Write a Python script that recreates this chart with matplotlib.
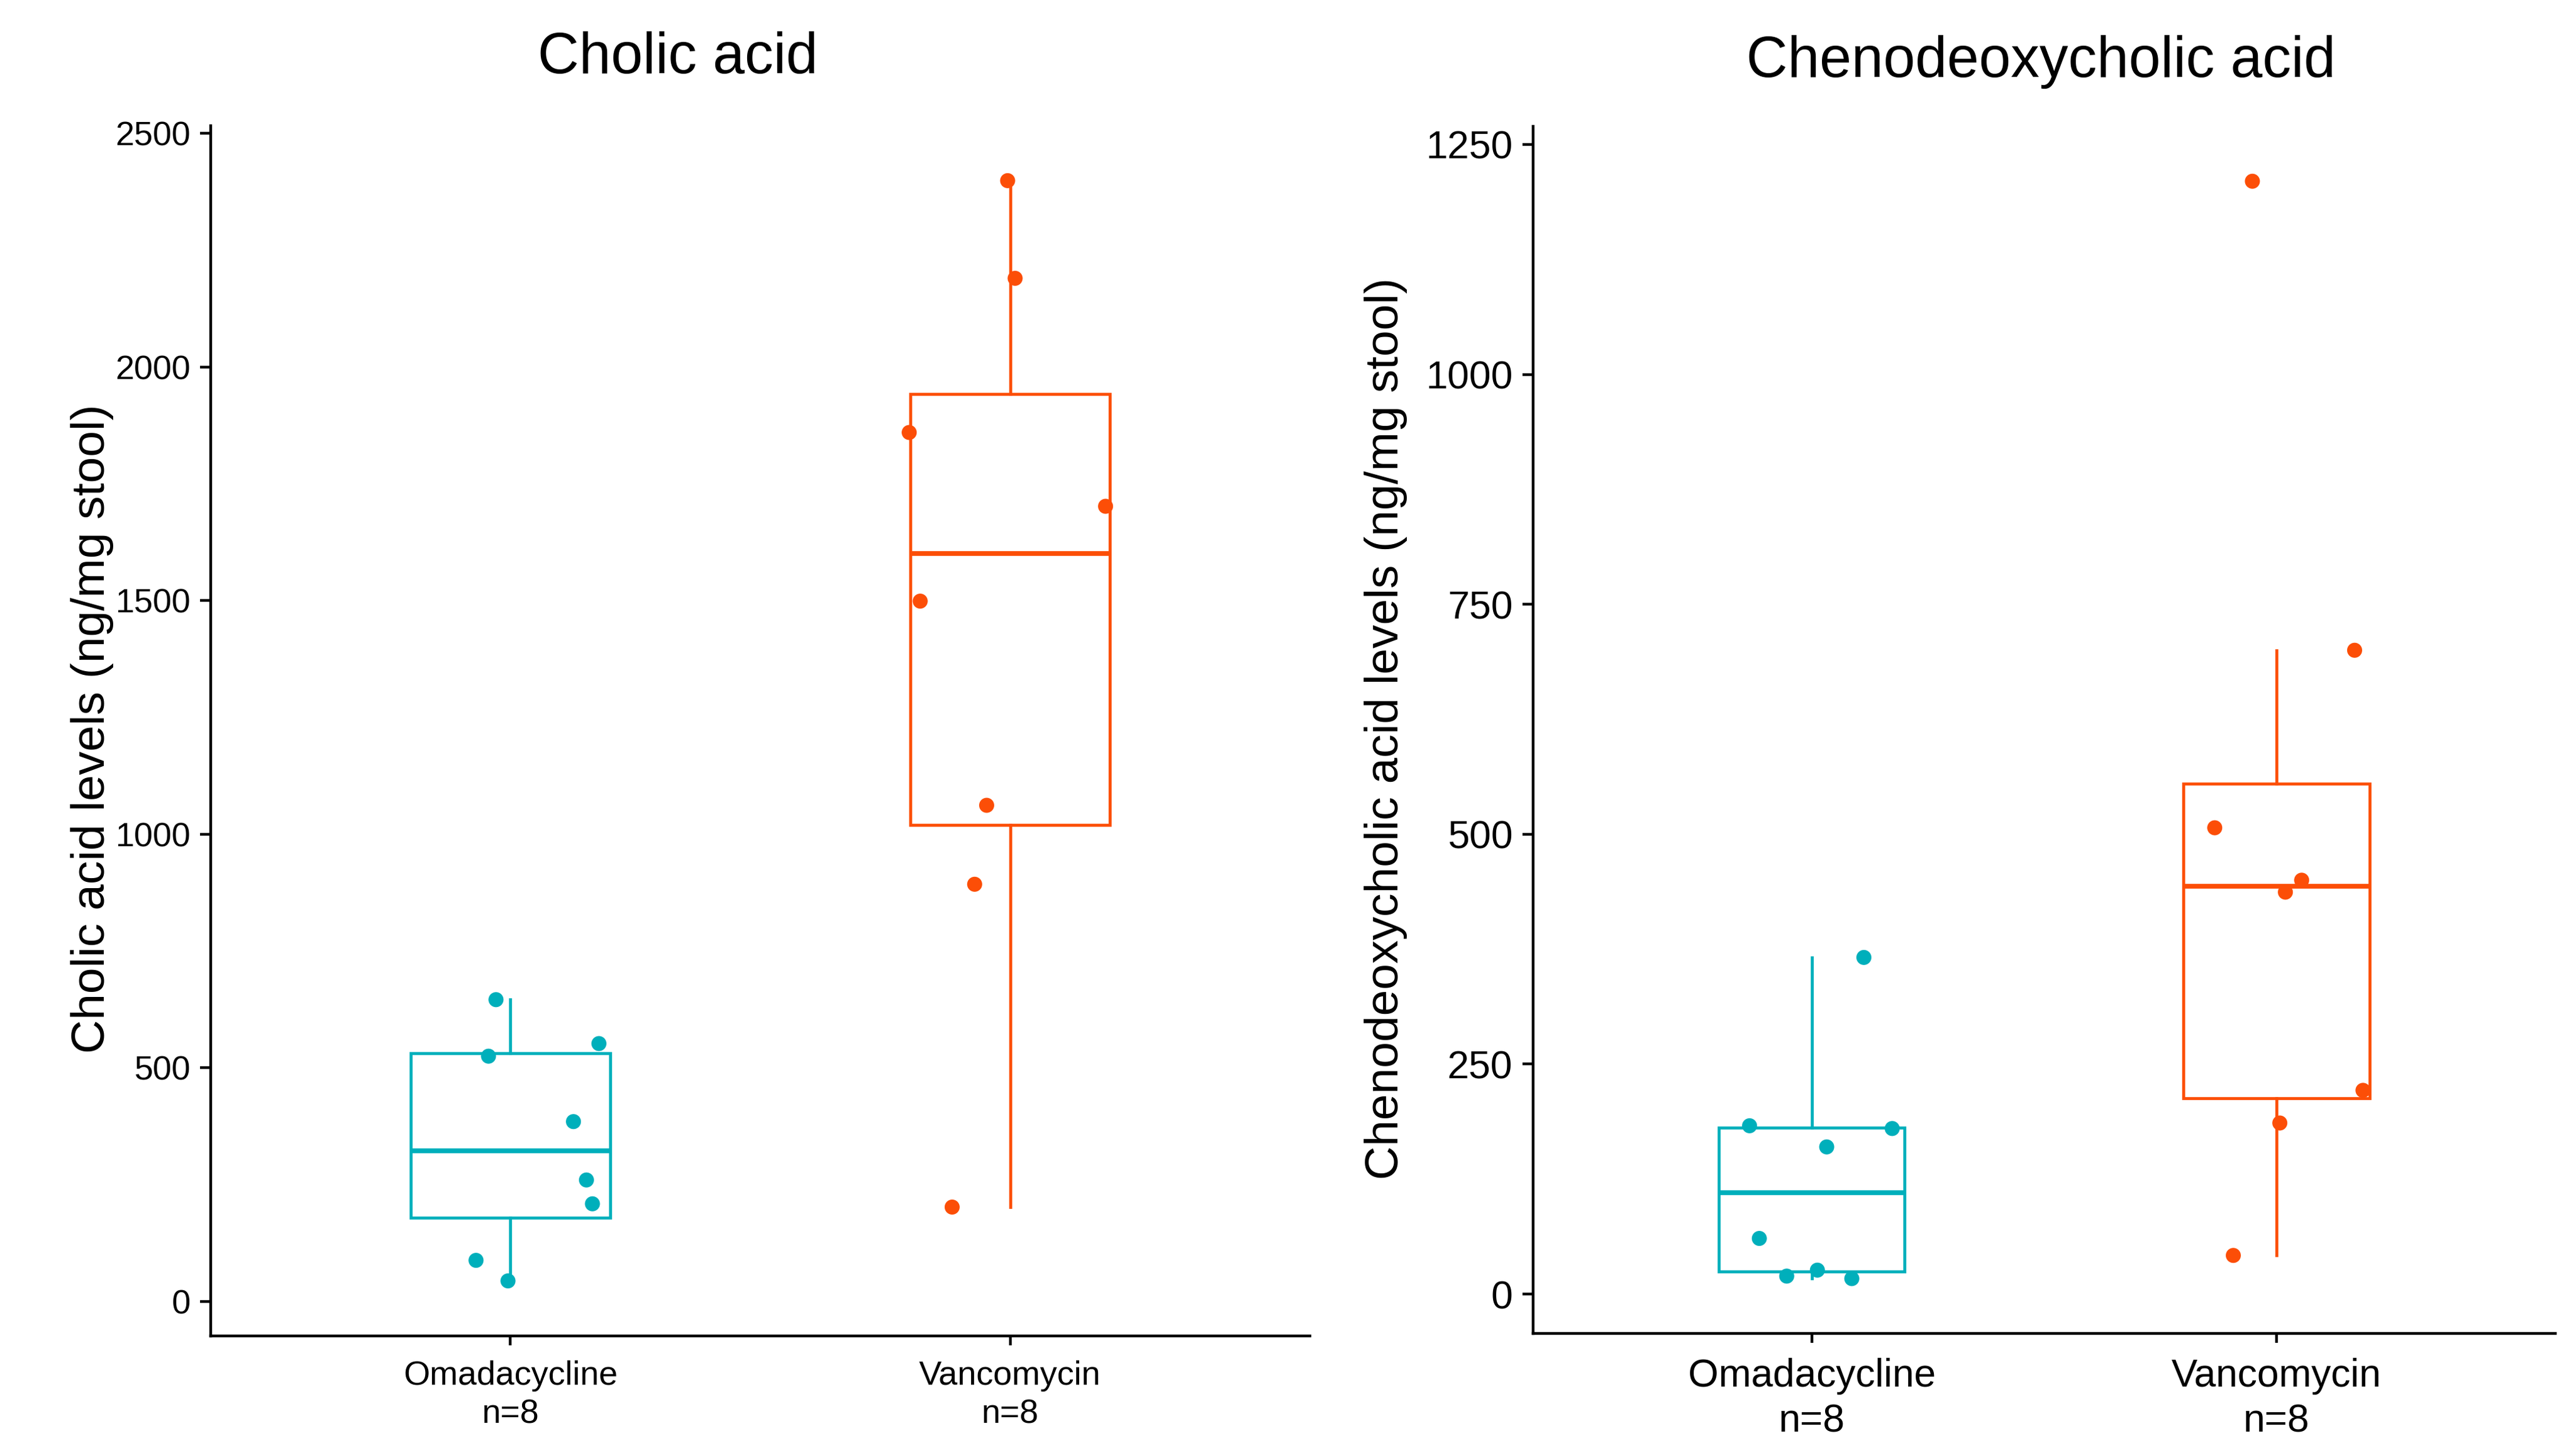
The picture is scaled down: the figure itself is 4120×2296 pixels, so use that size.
import matplotlib
matplotlib.use("Agg")
import numpy as np
import matplotlib.pyplot as plt

# groups and colours
groups = ["Omadacycline\nn=8", "Vancomycin\nn=8"]
colors = ["#00AFBB", "#FC4E07"]

# cholic acid values (ng/mg stool) and horizontal jitter
ca_omada = [646, 525, 552, 385, 260, 209, 88, 44]
ca_omada_jit = [-0.029, -0.044, 0.177, 0.126, 0.152, 0.164, -0.069, -0.005]
ca_vanco = [2399, 2190, 1860, 1702, 1499, 1062, 893, 202]
ca_vanco_jit = [-0.005, 0.010, -0.202, 0.191, -0.180, -0.047, -0.071, -0.116]
ca_ticks = [0, 500, 1000, 1500, 2000, 2500]

# chenodeoxycholic acid values
cdca_omada = [366, 183, 180, 160, 60.5, 26, 19.5, 16.8]
cdca_omada_jit = [0.112, -0.134, 0.173, 0.032, -0.113, 0.012, -0.054, 0.086]
cdca_vanco = [1210, 700, 507, 450, 437, 221.5, 186, 42]
cdca_vanco_jit = [-0.052, 0.168, -0.133, 0.054, 0.019, 0.186, 0.007, -0.093]
cdca_ticks = [0, 250, 500, 750, 1000, 1250]

plt.rcParams['font.family'] = ['Liberation Sans', 'DejaVu Sans']

fig = plt.figure(figsize=(41.2, 22.96), dpi=100)
ax1 = fig.add_axes([0.0818, 0.0697, 0.4267, 0.8428])
ax2 = fig.add_axes([0.5951, 0.0714, 0.3969, 0.8406])


def draw_panel(ax, data, jitter, ticks, tick_size):
    bp = ax.boxplot(data, positions=[1, 2], widths=0.4, showfliers=False,
                    showcaps=False, whis=1.5, patch_artist=True)
    for i, c in enumerate(colors):
        bp['boxes'][i].set(facecolor='none', edgecolor=c, linewidth=3.4)
        bp['medians'][i].set(color=c, linewidth=5.5)
        for w in bp['whiskers'][2 * i:2 * i + 2]:
            w.set(color=c, linewidth=3.4)
        xs = np.array(jitter[i]) + (i + 1)
        ax.scatter(xs, data[i], s=300, color=c, edgecolors='none', zorder=3)
    lo = min(min(d) for d in data)
    hi = max(max(d) for d in data)
    pad = (hi - lo) * 0.05
    ax.set_ylim(lo - pad, hi + pad)
    ax.set_xlim(0.4, 2.6)
    ax.set_yticks(ticks)
    ax.set_xticks([1, 2])
    ax.set_xticklabels(groups, fontsize=tick_size, linespacing=1.3)
    for lab in ax.get_yticklabels():
        lab.set_fontsize(tick_size)
    ax.spines['top'].set_visible(False)
    ax.spines['right'].set_visible(False)
    ax.spines['left'].set_linewidth(3.2)
    ax.spines['bottom'].set_linewidth(3.2)
    ax.tick_params(axis='y', length=12, width=3.2, pad=11)
    ax.tick_params(axis='x', length=11, width=3.2, pad=17)


# the left panel uses narrower tick labels in the original
draw_panel(ax1, [ca_omada, ca_vanco], [ca_omada_jit, ca_vanco_jit], ca_ticks, 39)
draw_panel(ax2, [cdca_omada, cdca_vanco], [cdca_omada_jit, cdca_vanco_jit], cdca_ticks, 45)

# titles and y labels
fig.text(0.2631, 0.949, "Cholic acid", fontsize=66, ha='center', va='baseline')
fig.text(0.7922, 0.9464, "Chenodeoxycholic acid", fontsize=66, ha='center', va='baseline')
fig.text(0.0357, 0.4926, "Cholic acid levels (ng/mg stool)", fontsize=54,
         rotation=90, ha='center', va='center')
fig.text(0.5381, 0.4926, "Chenodeoxycholic acid levels (ng/mg stool)", fontsize=54,
         rotation=90, ha='center', va='center')

fig.savefig("out.png", dpi=100, facecolor='white')
